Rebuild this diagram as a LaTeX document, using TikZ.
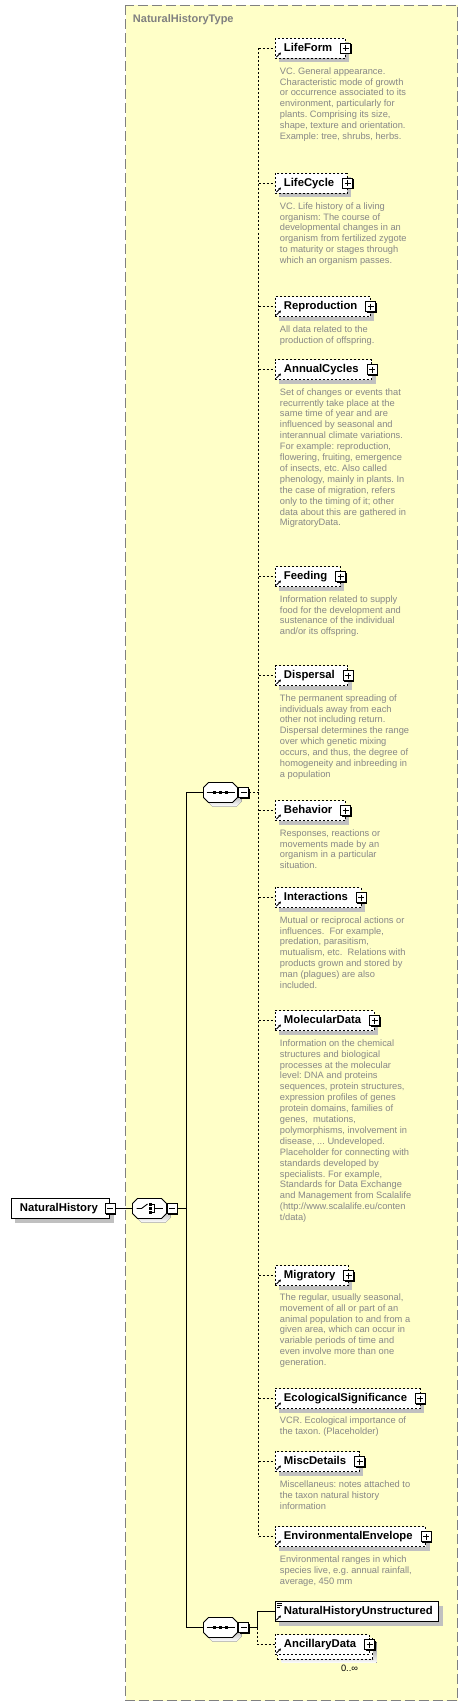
\documentclass[tikz,border=0pt]{standalone}
\usepackage{fontspec}
\setmainfont{Liberation Sans}
\usetikzlibrary{shadows,arrows.meta,calc}
\definecolor{bgyellow}{RGB}{255,255,200}
\definecolor{framegray}{RGB}{128,128,128}
\definecolor{descgray}{RGB}{135,135,135}
\definecolor{shade}{RGB}{192,192,192}
\tikzset{
  elembox/.style={draw, fill=white, anchor=west, minimum height=20pt, inner xsep=0pt, inner ysep=0pt,
    text height=8.2pt, text depth=2.4pt,
    font=\fontsize{11.3}{13}\selectfont\bfseries,
    execute at begin node={\hspace*{9pt}}, execute at end node={\hspace*{#1}}},
  elembox/.default=13pt,
  shadowed/.style={drop shadow={shadow xshift=4pt,shadow yshift=-4pt,fill=shade,draw=none,opacity=1}},
  elem/.style={elembox=#1, shadowed},
  elem/.default=13pt,
  optional/.style={dash pattern=on 2pt off 2pt},
  withref/.style={path picture={\draw[solid,line width=0.9pt,-{Stealth[length=2.6pt,width=2.8pt]}]
      ([shift={(1.5pt,1.5pt)}]path picture bounding box.south west) -- ++(4.5pt,4.5pt);}},
  signbox/.style={draw, solid, fill=white, minimum size=10pt, inner sep=0pt, line width=0.9pt,
    drop shadow={shadow xshift=1pt,shadow yshift=-1pt,fill=black,draw=none,opacity=1}},
  minusbox/.style={signbox, path picture={\draw[line width=0.9pt]
      ([xshift=2pt]path picture bounding box.west) -- ([xshift=-2pt]path picture bounding box.east);}},
  plusbox/.style={signbox, path picture={\draw[line width=0.9pt]
      ([xshift=2pt]path picture bounding box.west) -- ([xshift=-2pt]path picture bounding box.east);
      \draw[line width=0.9pt]
      ([yshift=-2pt]path picture bounding box.north) -- ([yshift=2pt]path picture bounding box.south);}},
  descr/.style={anchor=north west, inner sep=0pt, align=left, text=descgray,
    font=\fontsize{9.3}{10.9}\selectfont\frenchspacing, execute at begin node={\rule{0pt}{8pt}}},
  pics/octshape/.style={code={
    \fill[shade, shift={(4,4)}] (-12,-10) -- (12,-10) -- (17,-5) -- (17,5) -- (12,10) -- (-12,10) -- (-17,5) -- (-17,-5) -- cycle;
    \draw[fill=white] (-12,-10) -- (12,-10) -- (17,-5) -- (17,5) -- (12,10) -- (-12,10) -- (-17,5) -- (-17,-5) -- cycle;
  }},
  pics/seqcomp/.style={code={
    \pic {octshape};
    \draw (-14,0) -- (14,0);
    \foreach \sx in {-6,0,6} \fill (\sx-1.6,-1.6) rectangle (\sx+1.6,1.6);
    \node[inner sep=0pt, minimum width=34pt, minimum height=20pt] (-box) {};
  }},
  pics/choicecomp/.style={code={
    \pic {octshape};
    \draw (-13,0) -- (-8,0) -- (-2,-4.5);
    \foreach \sy in {-4,0,4} \fill (-0.3,\sy-1.3) rectangle (2.3,\sy+1.3);
    \draw (2.3,-4) -- (4.5,-4) -- (4.5,4) -- (2.3,4);
    \draw (4.5,0) -- (13,0);
    \node[inner sep=0pt, minimum width=34pt, minimum height=20pt] (-box) {};
  }},
}
\begin{document}
\begin{tikzpicture}[x=1pt,y=-1pt,line width=0.9pt]
\useasboundingbox (0,0) rectangle (468,1707);
\fill[white] (0,0) rectangle (468,1707);
\begin{scope}[shift={(0.5,0.5)}]
% type frame
\draw[framegray, line width=1pt, dash pattern=on 10pt off 4pt, fill=bgyellow] (125,5) rectangle (457,1700);
\node[anchor=west, inner sep=0pt, font=\fontsize{11}{13}\selectfont\bfseries, text=framegray] (title) at (132,19) {NaturalHistoryType};

% coordinates of buses
\coordinate (chBus) at (186,1208);
\coordinate (busA) at (258,792);
\coordinate (busB) at (257,1627);

% root element and compositors
\node[elem=12pt] (nh) at (10,1208) {NaturalHistory};
\node[minusbox] (nhm) at (nh.east) {};
\pic (ch) at (149,1208) {choicecomp};
\node[minusbox, anchor=west] (chm) at (ch-box.east) {};
\pic (seqA) at (220,792) {seqcomp};
\node[minusbox, anchor=west] (seqAm) at ([xshift=0.5pt]seqA-box.east) {};
\pic (seqB) at (220,1627) {seqcomp};
\node[minusbox, anchor=west] (seqBm) at ([xshift=0.5pt]seqB-box.east) {};

\draw (nhm.east) -- (ch-box.west);
\draw (chm.east) -- (chBus);
\draw (seqA-box.west) -| (chBus) |- (seqB-box.west);
\draw[optional] (seqAm.east) -- (busA);

% elements of first sequence
\node[elem, optional, withref] (lifeform) at (274,48) {LifeForm};
\node[plusbox] (lifeform-p) at (lifeform.east) {};
\node[descr] (lifeform-d) at (279,66.5) {VC. General appearance.\\Characteristic mode of growth\\or occurrence associated to its\\environment, particularly for\\plants. Comprising its size,\\shape, texture and orientation.\\Example: tree, shrubs, herbs.};

\node[elem, optional, withref] (lifecycle) at (274,183) {LifeCycle};
\node[plusbox] (lifecycle-p) at (lifecycle.east) {};
\node[descr] (lifecycle-d) at (279,201.5) {VC. Life history of a living\\organism: The course of\\developmental changes in an\\organism from fertilized zygote\\to maturity or stages through\\which an organism passes.};

\node[elem, optional, withref] (repro) at (274,306) {Reproduction};
\node[plusbox] (repro-p) at (repro.east) {};
\node[descr] (repro-d) at (279,324.5) {All data related to the\\production of offspring.};

\node[elem, optional, withref] (annual) at (274,369) {AnnualCycles};
\node[plusbox] (annual-p) at (annual.east) {};
\node[descr] (annual-d) at (279,387.5) {Set of changes or events that\\recurrently take place at the\\same time of year and are\\influenced by seasonal and\\interannual climate variations.\\For example: reproduction,\\flowering, fruiting, emergence\\of insects, etc. Also called\\phenology, mainly in plants. In\\the case of migration, refers\\only to the timing of it; other\\data about this are gathered in\\MigratoryData.};

\node[elem, optional, withref] (feeding) at (274,576) {Feeding};
\node[plusbox] (feeding-p) at (feeding.east) {};
\node[descr] (feeding-d) at (279,594.5) {Information related to supply\\food for the development and\\sustenance of the individual\\and/or its offspring.};

\node[elem, optional, withref] (dispersal) at (274,675) {Dispersal};
\node[plusbox] (dispersal-p) at (dispersal.east) {};
\node[descr] (dispersal-d) at (279,693.5) {The permanent spreading of\\individuals away from each\\other not including return.\\Dispersal determines the range\\over which genetic mixing\\occurs, and thus, the degree of\\homogeneity and inbreeding in\\a population};

\node[elem, optional, withref] (behavior) at (274,810) {Behavior};
\node[plusbox] (behavior-p) at (behavior.east) {};
\node[descr] (behavior-d) at (279,828.5) {Responses, reactions or\\movements made by an\\organism in a particular\\situation.};

\node[elem, optional, withref] (interact) at (274,897) {Interactions};
\node[plusbox] (interact-p) at (interact.east) {};
\node[descr] (interact-d) at (279,915.5) {Mutual or reciprocal actions or\\influences.\ \ For example,\\predation, parasitism,\\mutualism, etc.\ \ Relations with\\products grown and stored by\\man (plagues) are also\\included.};

\node[elem, optional, withref] (molecular) at (274,1020) {MolecularData};
\node[plusbox] (molecular-p) at (molecular.east) {};
\node[descr] (molecular-d) at (279,1038.5) {Information on the chemical\\structures and biological\\processes at the molecular\\level: DNA and proteins\\sequences, protein structures,\\expression profiles of genes\\protein domains, families of\\genes,\ \ mutations,\\polymorphisms, involvement in\\disease, ... Undeveloped.\\Placeholder for connecting with\\standards developed by\\specialists. For example,\\Standards for Data Exchange\\and Management from Scalalife\\(http://www.scalalife.eu/conten\\t/data)};

\node[elem, optional, withref] (migratory) at (274,1275) {Migratory};
\node[plusbox] (migratory-p) at (migratory.east) {};
\node[descr] (migratory-d) at (279,1292.5) {The regular, usually seasonal,\\movement of all or part of an\\animal population to and from a\\given area, which can occur in\\variable periods of time and\\even involve more than one\\generation.};

\node[elem, optional, withref] (ecosig) at (274,1398) {EcologicalSignificance};
\node[plusbox] (ecosig-p) at (ecosig.east) {};
\node[descr] (ecosig-d) at (279,1415.5) {VCR. Ecological importance of\\the taxon. (Placeholder)};

\node[elem, optional, withref] (misc) at (274,1461) {MiscDetails};
\node[plusbox] (misc-p) at (misc.east) {};
\node[descr] (misc-d) at (279,1479.5) {Miscellaneus: notes attached to\\the taxon natural history\\information};

\node[elem, optional, withref] (envenv) at (274,1536) {EnvironmentalEnvelope};
\node[plusbox] (envenv-p) at (envenv.east) {};
\node[descr] (envenv-d) at (279,1554.5) {Environmental ranges in which\\species live, e.g. annual rainfall,\\average, 450 mm};

% dashed bus of first sequence
\draw[optional] (lifeform.west -| busA) -- (envenv.west -| busA);
\foreach \e in {lifeform,lifecycle,repro,annual,feeding,dispersal,behavior,interact,molecular,migratory,ecosig,misc,envenv}
  \draw[optional] (\e.west -| busA) -- (\e.west);

% second sequence
\node[elem=6pt, withref] (nhu) at (274,1611) {NaturalHistoryUnstructured};
\draw[line width=0.7pt] ([shift={(2pt,-2pt)}]nhu.north west) -- ++(5.5pt,0pt)
      ([shift={(2pt,-4pt)}]nhu.north west) -- ++(5.5pt,0pt)
      ([shift={(2pt,-6pt)}]nhu.north west) -- ++(3.5pt,0pt);

\node[elembox, optional, withref, opacity=0, text opacity=0] (ancghost) at (277,1648) {AncillaryData};
\fill[shade] ([shift={(4pt,-4pt)}]ancghost.north west) rectangle ([shift={(4pt,-4pt)}]ancghost.south east);
\draw[optional, fill=white] (ancghost.north west) rectangle (ancghost.south east);
\node[elembox, optional, withref] (anc) at (274,1644) {AncillaryData};
\node[plusbox] (anc-p) at (anc.east) {};
\node[inner sep=0pt, font=\fontsize{9.3}{11}\selectfont] (anc-card) at (349,1668) {0..∞};

\draw (seqBm.east) -- (busB) |- (nhu.west);
\draw[optional] (busB) |- (anc.west);
\end{scope}
\end{tikzpicture}
\end{document}
